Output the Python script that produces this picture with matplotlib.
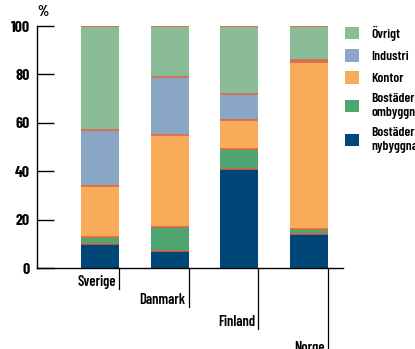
import matplotlib
matplotlib.use("Agg")
import matplotlib.pyplot as plt
import matplotlib.transforms as mtransforms
from matplotlib.patches import Patch
import numpy as np

plt.rcParams['font.family'] = ['Barlow Condensed', 'DejaVu Sans']
plt.rcParams['font.weight'] = 600

# --- data (percent of total) ---
countries = ['Sverige', 'Danmark', 'Finland', 'Norge']
nybyggnad = [10, 7, 41, 14]
ombyggnad = [3, 10, 8, 2]
kontor = [21, 38, 12, 69]
industri = [23, 24, 11, 1]
ovrigt = [43, 21, 28, 14]

series = [nybyggnad, ombyggnad, kontor, industri, ovrigt]
labels = ['Bostäder\nnybyggnad', 'Bostäder\nombyggnad', 'Kontor', 'Industri', 'Övrigt']
colors = ['#004678', '#4ea56f', '#f8ab58', '#8ba7c6', '#89bc97']
sep_color = '#e8603c'

fig = plt.figure(figsize=(4.15, 3.49), dpi=100)
ax = fig.add_axes([0.0892, 0.232, 0.7373, 0.6934])

x = np.arange(len(countries))
w = 0.546
bottom = np.zeros(len(countries))
for vals, col in zip(series, colors):
    vals = np.array(vals, dtype=float)
    ax.bar(x, vals, w, bottom=bottom, color=col, linewidth=0)
    top = bottom + vals
    ax.hlines(top, x - w / 2, x + w / 2, color=sep_color, linewidth=1.1)
    bottom = top

ax.set_xlim(-0.905, 3.49)
ax.set_ylim(0, 100)
ax.set_yticks([0, 20, 40, 60, 80, 100])
ax.tick_params(axis='y', direction='in', length=12, width=1, labelsize=11.5, pad=5)
for t in ax.get_yticklabels():
    t.set_fontweight('bold')
ax.set_xticks([])
for s in ['top', 'right']:
    ax.spines[s].set_visible(False)
ax.spines['left'].set_linewidth(1)
ax.spines['bottom'].set_linewidth(1)

ax.text(0.0, 1.03, '%', transform=ax.transAxes, fontsize=10.5, fontweight='bold',
        ha='left', va='bottom')

# staggered category labels with drop lines
trans = mtransforms.blended_transform_factory(ax.transData, ax.transAxes)
drops = [0.085, 0.162, 0.252, 0.36]
for xi, name, d in zip(x, countries, drops):
    xr = xi + w / 2
    ax.plot([xr, xr], [0, -d], transform=trans, color='black', linewidth=0.9, clip_on=False)
    ax.text(xr - 0.045, -d + 0.012, name, transform=trans, ha='right', va='baseline',
            fontsize=10.5)

handles = [Patch(facecolor=c, edgecolor='none') for c in colors[::-1]]
leg = fig.legend(handles, labels[::-1], loc='upper left', bbox_to_anchor=(0.818, 0.942),
                 frameon=False, fontsize=9.8, handlelength=1.05, handleheight=1.05,
                 handletextpad=0.9, labelspacing=0.6, borderaxespad=0)

fig.savefig('out.png', dpi=100)
